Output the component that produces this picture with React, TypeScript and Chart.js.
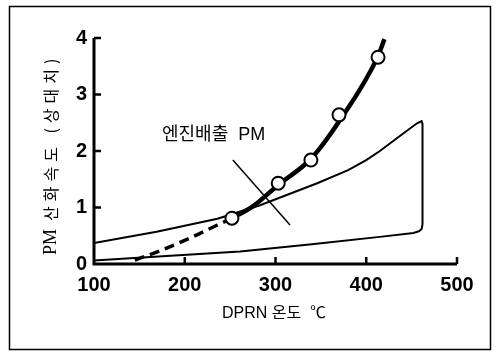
import React, { useEffect, useRef } from "react";
import { Chart, registerables } from "chart.js";

Chart.register(...registerables);

// Measured oxidation-rate points (circles)
const measuredTemp = [252, 303, 339, 370, 413];
const measuredRate = [0.81, 1.43, 1.84, 2.64, 3.66];

// Solid fitted curve
const fitTemp = [252, 275, 303, 339, 370, 413, 420];
const fitRate = [0.81, 1.02, 1.4, 1.86, 2.52, 3.68, 3.98];

// Dashed extrapolation
const dashTemp = [145, 169, 206, 236, 252];
const dashRate = [0.07, 0.21, 0.46, 0.69, 0.81];

// Engine-out PM region outline
const regionTemp = [100, 169, 236, 283, 346, 380, 400, 415, 440, 456, 461, 462, 462, 461, 458, 452, 415, 340, 261, 180, 100];
const regionRate = [0.37, 0.57, 0.8, 1.04, 1.43, 1.66, 1.84, 2.0, 2.3, 2.49, 2.53, 2.48, 0.7, 0.62, 0.58, 0.55, 0.48, 0.35, 0.22, 0.14, 0.06];

// Annotation pointer line for the region label
const pointerTemp = [253, 316];
const pointerRate = [1.84, 0.69];

const xTicks = [100, 200, 300, 400, 500];
const yTicks = [0, 1, 2, 3, 4];

const yTitleLatin = "PM";
const yTitleKorean = "산화속도 (상대치)";
const xTitle = "DPRN 온도  ℃";
const regionLabel = "엔진배출  PM";

const zip = (xs: number[], ys: number[]) => xs.map((x, i) => ({ x, y: ys[i] }));

export default function App() {
  const ref = useRef<HTMLCanvasElement | null>(null);

  useEffect(() => {
    if (!ref.current) return;
    const overlay = {
      id: "overlay",
      afterDraw(chart: any) {
        const { ctx, chartArea, scales } = chart;
        const xs = scales.x;
        const ys = scales.y;
        const { left, right, top, bottom } = chartArea;
        ctx.save();
        ctx.strokeStyle = "#000";
        ctx.fillStyle = "#000";
        // outer frame
        ctx.lineWidth = 1.5;
        ctx.strokeRect(9.5, 6.5, 481, 343);
        // axes
        ctx.lineWidth = 3;
        ctx.beginPath();
        ctx.moveTo(left, top);
        ctx.lineTo(left, bottom);
        ctx.lineTo(right, bottom);
        ctx.stroke();
        // ticks
        ctx.lineWidth = 2.5;
        yTicks.slice(1).forEach((v) => {
          const py = ys.getPixelForValue(v);
          ctx.beginPath();
          ctx.moveTo(left, py);
          ctx.lineTo(left + 7, py);
          ctx.stroke();
        });
        xTicks.slice(1).forEach((v) => {
          const px = xs.getPixelForValue(v);
          ctx.beginPath();
          ctx.moveTo(px, bottom);
          ctx.lineTo(px, bottom - 7);
          ctx.stroke();
        });
        // pointer line
        ctx.lineWidth = 1.5;
        ctx.beginPath();
        ctx.moveTo(xs.getPixelForValue(pointerTemp[0]), ys.getPixelForValue(pointerRate[0]));
        ctx.lineTo(xs.getPixelForValue(pointerTemp[1]), ys.getPixelForValue(pointerRate[1]));
        ctx.stroke();
        // region label
        ctx.font = '18px "Liberation Sans", "Noto Sans CJK KR"';
        ctx.textAlign = "left";
        ctx.textBaseline = "middle";
        ctx.fillText(regionLabel, 162, 135);
        // x title
        ctx.font = '16px "Liberation Sans", "Noto Sans CJK KR"';
        ctx.fillText(xTitle, 222, 314);
        // y title
        ctx.translate(51, 157);
        ctx.rotate(-Math.PI / 2);
        ctx.textAlign = "left";
        ctx.font = '18px "Liberation Serif"';
        ctx.fillText(yTitleLatin, -98, 0);
        ctx.font = '16px "Noto Sans CJK KR"';
        (ctx as any).letterSpacing = "5px";
        ctx.fillText(yTitleKorean, -64, 0);
        ctx.restore();
      },
    };

    const chart = new Chart(ref.current, {
      type: "scatter",
      data: {
        datasets: [
          {
            data: zip(measuredTemp, measuredRate),
            showLine: false,
            pointRadius: 6.5,
            pointBorderWidth: 2,
            pointBorderColor: "#000",
            pointBackgroundColor: "#fff",
          },
          {
            data: zip(fitTemp, fitRate),
            showLine: true,
            borderColor: "#000",
            borderWidth: 4.5,
            pointRadius: 0,
            cubicInterpolationMode: "monotone",
          },
          {
            data: zip(dashTemp, dashRate),
            showLine: true,
            borderColor: "#000",
            borderWidth: 3.5,
            borderDash: [10, 6],
            pointRadius: 0,
            cubicInterpolationMode: "monotone",
          },
          {
            data: zip(regionTemp, regionRate),
            showLine: true,
            borderColor: "#000",
            borderWidth: 2,
            pointRadius: 0,
            tension: 0,
          },
        ],
      } as any,
      options: {
        animation: false,
        responsive: false,
        devicePixelRatio: 1,
        layout: { padding: { top: 38, right: 40, left: 0, bottom: 0 } },
        plugins: { legend: { display: false }, tooltip: { enabled: false } },
        scales: {
          x: {
            type: "linear",
            min: 100,
            max: 500,
            afterBuildTicks: (s: any) => {
              s.ticks = xTicks.map((v) => ({ value: v }));
            },
            grid: { display: false, drawTicks: false },
            border: { display: false },
            ticks: {
              padding: 9,
              color: "#000",
              font: { family: "Liberation Sans", size: 20, weight: "bold" },
            },
            afterFit: (s: any) => {
              s.height = 88;
            },
          },
          y: {
            type: "linear",
            min: 0,
            max: 4,
            afterBuildTicks: (s: any) => {
              s.ticks = yTicks.map((v) => ({ value: v }));
            },
            grid: { display: false, drawTicks: false },
            border: { display: false },
            ticks: {
              padding: 7,
              color: "#000",
              font: { family: "Liberation Sans", size: 20, weight: "bold" },
            },
            afterFit: (s: any) => {
              s.width = 94;
            },
          },
        },
      } as any,
      plugins: [overlay],
    });
    return () => chart.destroy();
  }, []);

  return (
    <div style={{ position: "absolute", left: 0, top: 0, width: 497, height: 352, background: "#fff" }}>
      <canvas ref={ref} width={497} height={352} style={{ width: 497, height: 352, display: "block" }} />
    </div>
  );
}
